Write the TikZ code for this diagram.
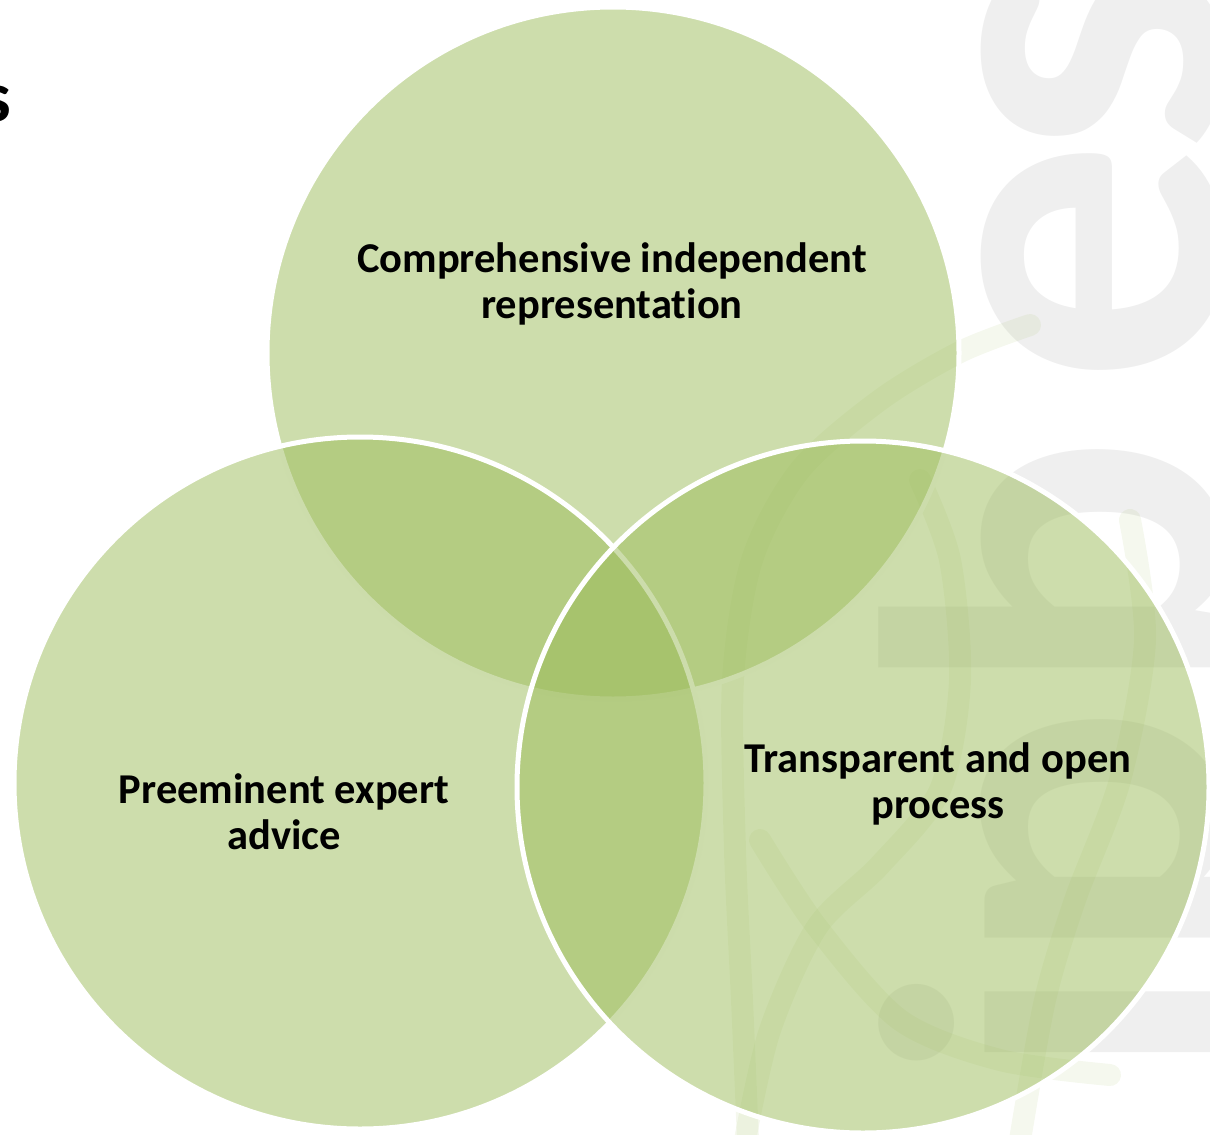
\documentclass[tikz,border=0pt]{standalone}
\usepackage{fontspec}
\setmainfont{Carlito}[Ligatures=NoCommon]
\begin{document}
\begin{tikzpicture}[x=1pt,y=-1pt,
  venn/.style={circle, minimum size=692pt, inner sep=0pt, outer sep=0pt,
    fill=vgreen, fill opacity=0.5, draw=white, draw opacity=1, line width=5pt},
  vlabel/.style={font=\fontsize{42.5}{46}\selectfont\bfseries, align=center,
    text=black, inner sep=0pt},
  wm/.style={font=\fontsize{490}{490}\selectfont\bfseries, text=wmgrey,
    rotate=90, anchor=base, inner sep=0pt},
  logo/.style={draw=vgreen, draw opacity=0.1, line width=22pt, line cap=round}]
\definecolor{vgreen}{RGB}{155,187,89}
\definecolor{wmgrey}{RGB}{239,239,239}
\useasboundingbox (0,0) rectangle (1210,1135);
\begin{scope}
\clip (0,0) rectangle (1210,1135);
% background watermark letters
\node[wm] (wms) at (1222,58) {s};
\node[wm] (wme) at (1222,262) {e};
\node[wm] (wmb) at (1222,566) {b};
\node[wm] (wmp) at (1222,836) {p};
\node[wm] (wmi) at (1222,1022) {i};
% faint logo lines
\draw[logo] plot[smooth] coordinates {(1030,325) (960,352) (880,400) (800,470) (752,560) (733,680) (735,850) (742,1000) (748,1140)};
\draw[logo] plot[smooth] coordinates {(745,1140) (770,1030) (817,927) (880,865) (940,790) (960,680) (950,560) (920,480)};
\draw[logo] plot[smooth] coordinates {(760,840) (817,927) (900,1020) (1000,1060) (1110,1075)};
\draw[logo] plot[smooth] coordinates {(1020,1140) (1045,1000) (1075,900) (1120,780) (1145,640) (1130,520)};
% cropped title fragment at left edge
\node[font=\fontsize{72}{72}\selectfont\bfseries, anchor=base east, inner sep=0pt] (frag) at (11,121) {s};
% Venn circles
\node[venn] (ctop) at (613,353) {};
\node[venn] (cleft) at (360,783) {};
\node[venn] (cright) at (863,787) {};
\end{scope}
% labels
\node[vlabel] (ltop) at (612,284) {Comprehensive independent\\representation};
\node[vlabel] (lleft) at (284,812) {Preeminent expert\\advice};
\node[vlabel] (lright) at (938,784) {Transparent and open\\process};
\end{tikzpicture}
\end{document}
